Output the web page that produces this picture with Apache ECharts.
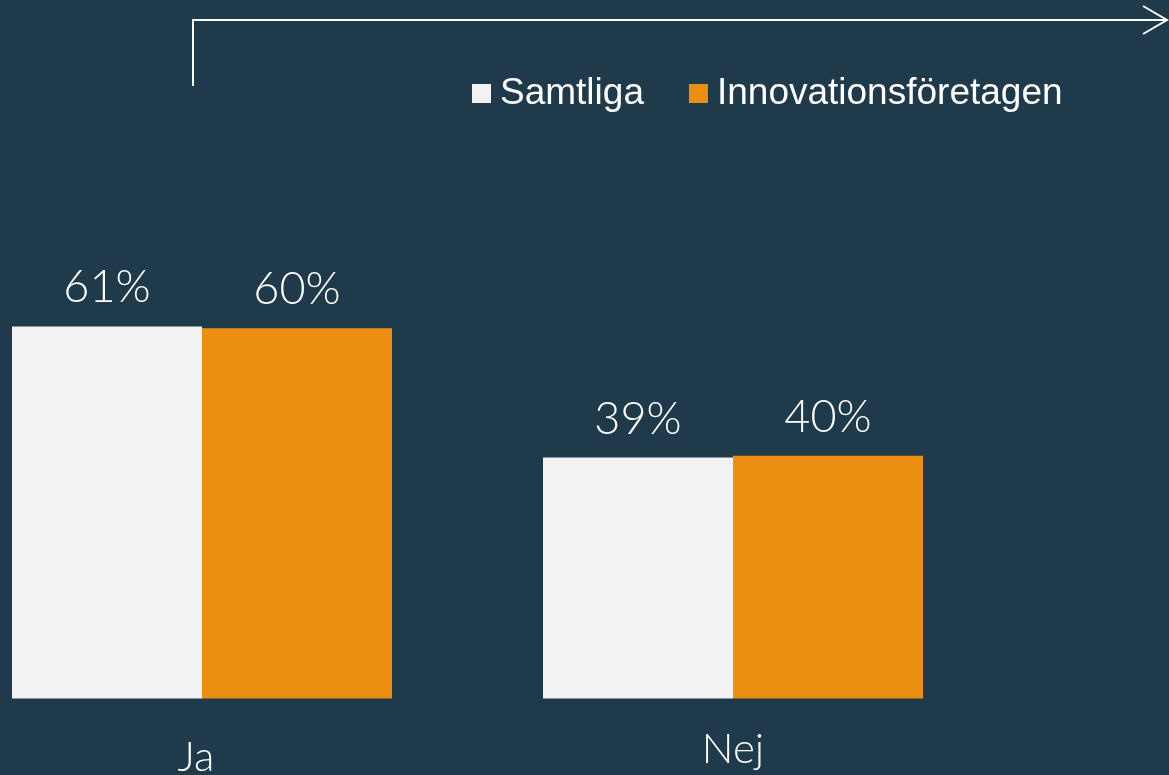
<!DOCTYPE html>
<html>
<head>
<meta charset="utf-8">
<script src="https://cdn.jsdelivr.net/npm/echarts@6/dist/echarts.min.js"></script>
<style>
  html, body { margin: 0; padding: 0; background: #1e3a4b; }
  #chart { width: 1169px; height: 775px; }
</style>
</head>
<body>
<div id="chart"></div>
<script>
// data
var categories = ['Ja', 'Nej'];
var samtliga = [60.7, 39.3];
var innovation = [60.4, 39.6];
var seriesNames = ['Samtliga', 'Innovationsföretagen'];

var chart = echarts.init(document.getElementById('chart'));

var labelStyle = {
  show: true,
  position: 'top',
  distance: 16,
  color: '#ffffff',
  fontFamily: 'Lato',
  fontWeight: 300,
  fontSize: 45,
  formatter: function (p) { return Math.round(p.value) + '%'; }
};

var option = {
  backgroundColor: '#1e3a4b',
  animation: false,
  legend: {
    left: 467,
    top: 70,
    icon: 'rect',
    itemWidth: 19,
    itemHeight: 19,
    itemGap: 45,
    textStyle: {
      color: '#ffffff',
      fontFamily: 'Liberation Sans',
      fontSize: 37,
      padding: [0, 0, 0, 4]
    },
    data: seriesNames
  },
  grid: {
    left: -63.5,
    width: 1062,
    top: 85.5,
    bottom: 76.5,
    containLabel: false,
    outerBoundsMode: 'none'
  },
  xAxis: {
    type: 'category',
    data: [
      { value: categories[0], textStyle: { padding: [8, 12, 0, 0] } },
      { value: categories[1] }
    ],
    axisLine: { show: false },
    axisTick: { show: false },
    axisLabel: {
      color: '#ffffff',
      fontFamily: 'Lato',
      fontWeight: 300,
      fontSize: 42,
      margin: 30
    }
  },
  yAxis: {
    type: 'value',
    min: 0,
    max: 100,
    show: false,
    splitLine: { show: false }
  },
  graphic: [
    { // arrow frame at the top
      type: 'polyline',
      shape: { points: [[193, 86], [193, 20], [1167, 20]] },
      style: { stroke: '#ffffff', lineWidth: 2, fill: null }
    },
    {
      type: 'polyline',
      shape: { points: [[1143, 6], [1167, 20], [1143, 34]] },
      style: { stroke: '#ffffff', lineWidth: 2, fill: null }
    }
  ],
  series: [
    {
      name: seriesNames[0],
      type: 'bar',
      data: samtliga,
      barWidth: 190,
      barGap: '0%',
      itemStyle: { color: '#f2f2f2' },
      label: labelStyle
    },
    {
      name: seriesNames[1],
      type: 'bar',
      data: innovation,
      barWidth: 190,
      barGap: '0%',
      itemStyle: { color: '#ea8f12' },
      label: labelStyle
    }
  ]
};

chart.setOption(option);
</script>
</body>
</html>
